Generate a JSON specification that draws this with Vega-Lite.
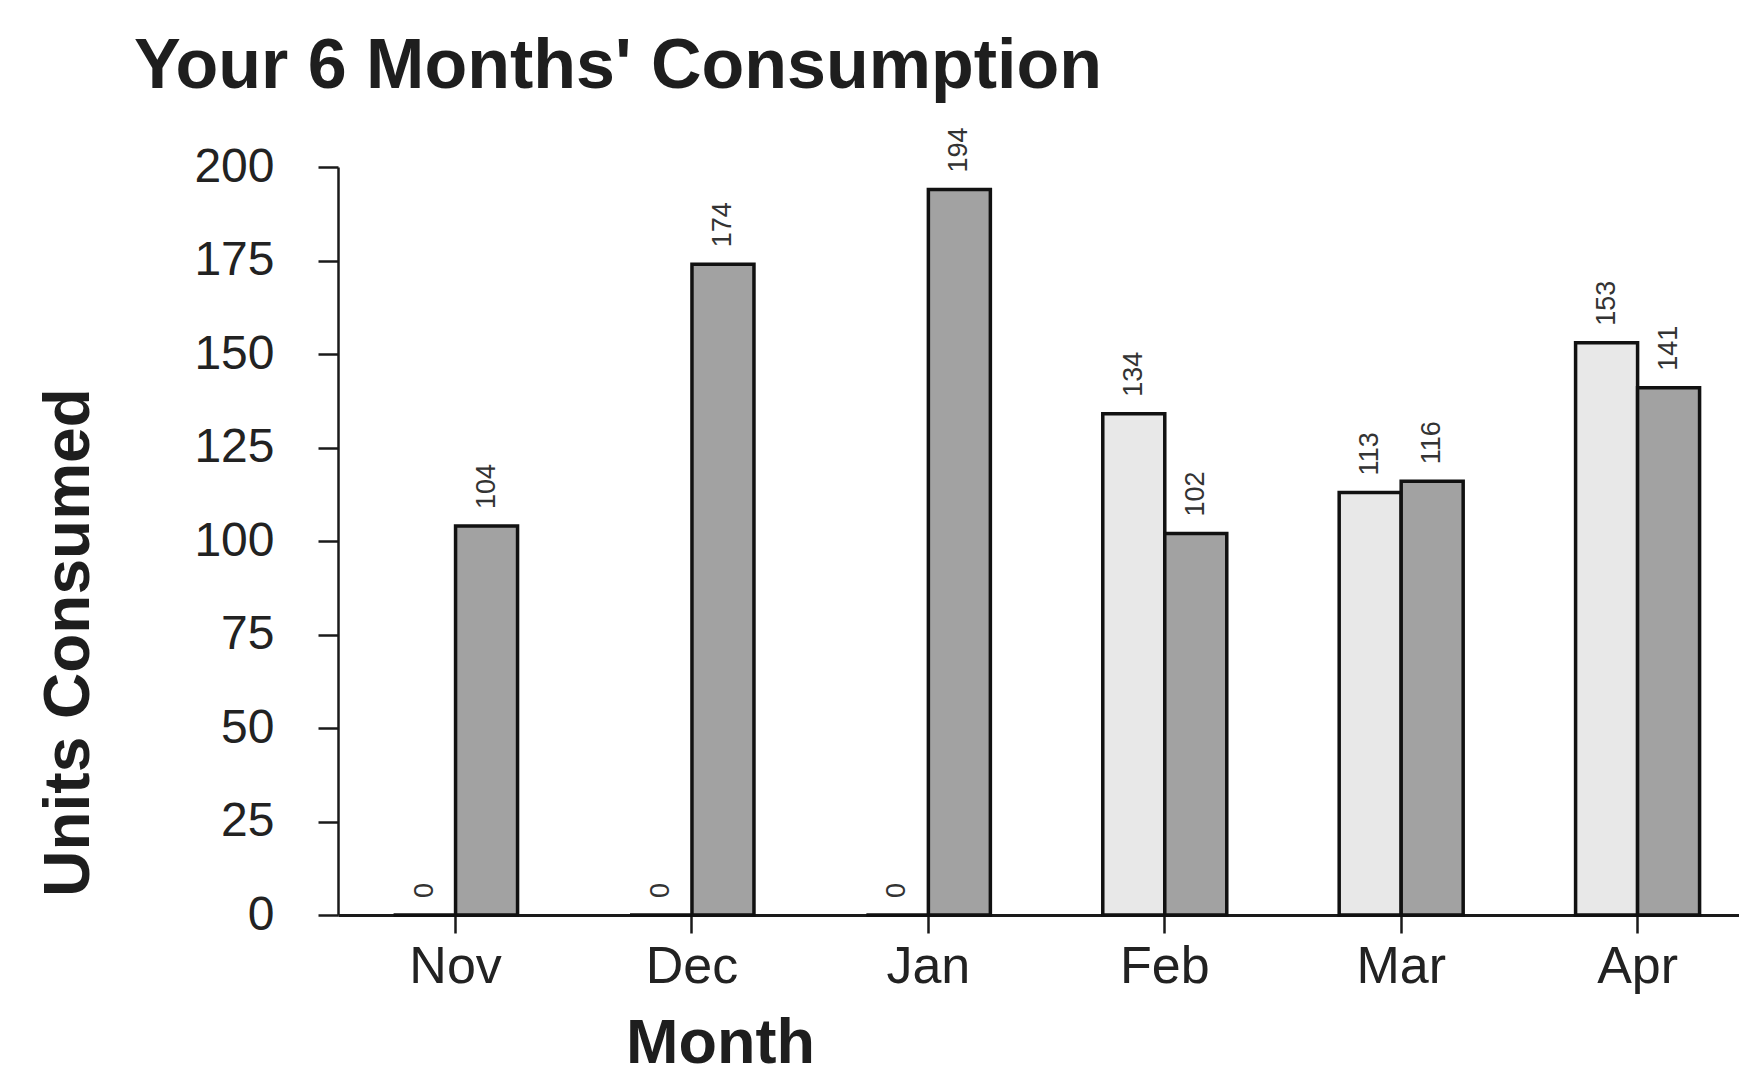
{
  "$schema": "https://vega.github.io/schema/vega-lite/v6.json",
  "width": 1401,
  "height": 748,
  "autosize": {"type": "none"},
  "padding": {"left": 338, "top": 167, "right": 0, "bottom": 160},
  "background": "white",
  "config": {"view": {"stroke": null}, "font": "Liberation Sans"},
  "title": {
    "text": "Your 6 Months' Consumption",
    "anchor": "start",
    "frame": "group",
    "dx": -204,
    "dy": 70,
    "offset": 39,
    "baseline": "alphabetic",
    "fontSize": 70,
    "fontWeight": "bold",
    "font": "Liberation Sans",
    "color": "#1e1e1e"
  },
  "data": {
    "values": [
      {"month": "Nov", "period": "Previous", "units": 0},
      {"month": "Nov", "period": "Current", "units": 104},
      {"month": "Dec", "period": "Previous", "units": 0},
      {"month": "Dec", "period": "Current", "units": 174},
      {"month": "Jan", "period": "Previous", "units": 0},
      {"month": "Jan", "period": "Current", "units": 194},
      {"month": "Feb", "period": "Previous", "units": 134},
      {"month": "Feb", "period": "Current", "units": 102},
      {"month": "Mar", "period": "Previous", "units": 113},
      {"month": "Mar", "period": "Current", "units": 116},
      {"month": "Apr", "period": "Previous", "units": 153},
      {"month": "Apr", "period": "Current", "units": 141}
    ]
  },
  "encoding": {
    "x": {
      "field": "month",
      "type": "nominal",
      "sort": ["Nov", "Dec", "Jan", "Feb", "Mar", "Apr"],
      "scale": {"paddingInner": 0.4755, "paddingOuter": 0.2009, "align": 0.585},
      "axis": {
        "title": "Month",
        "labelAngle": 0,
        "tickSize": 18,
        "tickWidth": 2.5,
        "tickColor": "#1a1a1a",
        "domainColor": "#1a1a1a",
        "domainWidth": 3,
        "labelFontSize": 52,
        "labelPadding": 8,
        "labelColor": "#222222",
        "titleFontSize": 63,
        "titleFontWeight": "bold",
        "titleColor": "#1e1e1e",
        "titleX": 382,
        "titleY": 147,
        "titleBaseline": "alphabetic",
        "titleAlign": "center"
      }
    },
    "xOffset": {
      "field": "period",
      "type": "nominal",
      "sort": ["Previous", "Current"],
      "scale": {"paddingInner": 0, "paddingOuter": 0}
    },
    "y": {
      "field": "units",
      "type": "quantitative",
      "scale": {"domain": [0, 200], "nice": false},
      "axis": {
        "title": "Units Consumed",
        "values": [0, 25, 50, 75, 100, 125, 150, 175, 200],
        "grid": false,
        "tickSize": 20,
        "tickWidth": 2.5,
        "tickColor": "#1a1a1a",
        "domainColor": "#1a1a1a",
        "domainWidth": 2.5,
        "labelFontSize": 48,
        "labelPadding": 44,
        "labelColor": "#222222",
        "labelOverlap": false,
        "titleFontSize": 64,
        "titleFontWeight": "bold",
        "titleColor": "#1e1e1e",
        "titleX": -250,
        "titleY": 475,
        "titleAngle": 270,
        "titleBaseline": "alphabetic",
        "titleAlign": "center"
      }
    }
  },
  "layer": [
    {
      "mark": {"type": "bar", "stroke": "#111111", "strokeWidth": 3.5},
      "encoding": {
        "fill": {
          "field": "period",
          "type": "nominal",
          "scale": {"domain": ["Previous", "Current"], "range": ["#e8e8e8", "#a2a2a2"]},
          "legend": null
        }
      }
    },
    {
      "mark": {"type": "text", "angle": 270, "align": "left", "baseline": "middle", "dx": 17, "fontSize": 27, "color": "#333333"},
      "encoding": {
        "text": {"field": "units", "type": "quantitative"}
      }
    }
  ]
}
